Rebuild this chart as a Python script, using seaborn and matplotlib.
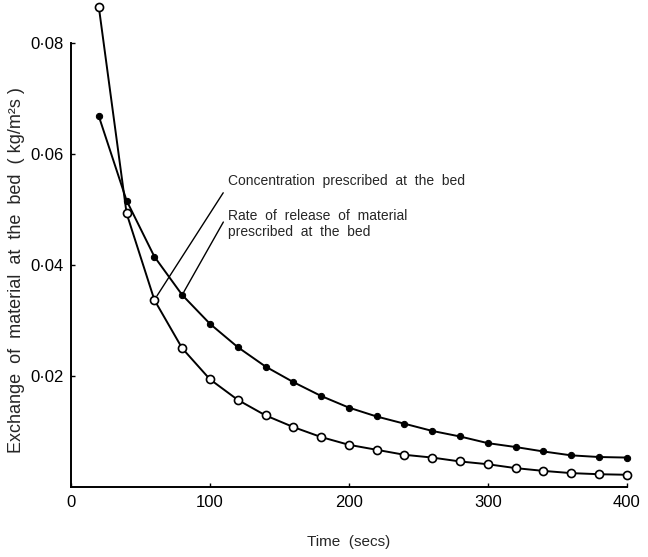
import numpy as np
import pandas as pd
import matplotlib
matplotlib.use("Agg")
import matplotlib.pyplot as plt
import seaborn as sns

# values
time_s = [20, 40, 60, 80, 100, 120, 140, 160, 180, 200,
          220, 240, 260, 280, 300, 320, 340, 360, 380, 400]
conc_bed = [0.0865, 0.0493, 0.0337, 0.0250, 0.0194, 0.0157, 0.0129, 0.0108, 0.0090, 0.0076,
            0.0067, 0.0058, 0.0053, 0.0046, 0.0041, 0.0034, 0.0029, 0.0025, 0.0023, 0.0022]
rate_bed = [0.0668, 0.0516, 0.0415, 0.0346, 0.0294, 0.0252, 0.0217, 0.0189, 0.0164, 0.0143,
            0.0127, 0.0114, 0.0101, 0.0091, 0.0079, 0.0072, 0.0064, 0.0057, 0.0054, 0.0053]
x_ticks = [0, 100, 200, 300, 400]
y_ticks = [0.02, 0.04, 0.06, 0.08]
y_ticklabels = ["0·02", "0·04", "0·06", "0·08"]

sns.set_style("ticks")
plt.rcParams['font.family'] = ['Liberation Sans', 'DejaVu Sans']

df = pd.DataFrame({"time": time_s, "conc": conc_bed, "rate": rate_bed})

fig = plt.figure(figsize=(6.48, 5.57), dpi=100)
ax = fig.add_axes([0.1096, 0.1257, 0.8575, 0.867])

sns.lineplot(data=df, x="time", y="rate", ax=ax, color="black", lw=1.4,
             marker="o", markersize=4.5, markerfacecolor="black",
             markeredgecolor="black", clip_on=False, zorder=3)
sns.lineplot(data=df, x="time", y="conc", ax=ax, color="black", lw=1.4,
             marker="o", markersize=5.8, markerfacecolor="white",
             markeredgecolor="black", markeredgewidth=1.2, clip_on=False, zorder=4)

ax.set_xlim(0, 400)
ax.set_ylim(0, 0.087)
sns.despine(ax=ax)
ax.spines['left'].set_bounds(0, 0.08)
ax.spines['bottom'].set_bounds(0, 400)
for s in ['left', 'bottom']:
    ax.spines[s].set_linewidth(1.4)
    ax.spines[s].set_color("black")

ax.set_xticks(x_ticks)
ax.set_xticklabels([str(t) for t in x_ticks])
ax.set_yticks(y_ticks)
ax.set_yticklabels(y_ticklabels)
ax.tick_params(axis='both', direction='in', length=3, width=1, colors='black', labelsize=12)
ax.tick_params(axis='x', pad=6)
ax.tick_params(axis='y', pad=5)

ax.set_xlabel("Time  (secs)", fontsize=11, labelpad=18)
ax.set_ylabel("Exchange  of  material  at  the  bed  ( kg/m²s )", fontsize=13)
ax.yaxis.set_label_coords(-0.082, 0.45)

# leader lines from the labels to the curves
ax.annotate("Concentration  prescribed  at  the  bed",
            xy=(time_s[2], conc_bed[2]), xytext=(113, 0.0551),
            fontsize=10, va="center", ha="left",
            arrowprops=dict(arrowstyle="-", color="black", lw=1.0,
                            relpos=(0, 0.2), shrinkA=2, shrinkB=3.5))
ax.annotate("Rate  of  release  of  material\nprescribed  at  the  bed",
            xy=(time_s[3], rate_bed[3]), xytext=(113, 0.0500),
            fontsize=10, va="top", ha="left", linespacing=1.1,
            arrowprops=dict(arrowstyle="-", color="black", lw=1.0,
                            relpos=(0, 0.85), shrinkA=2, shrinkB=2.5))

fig.savefig("out.png", dpi=100)
